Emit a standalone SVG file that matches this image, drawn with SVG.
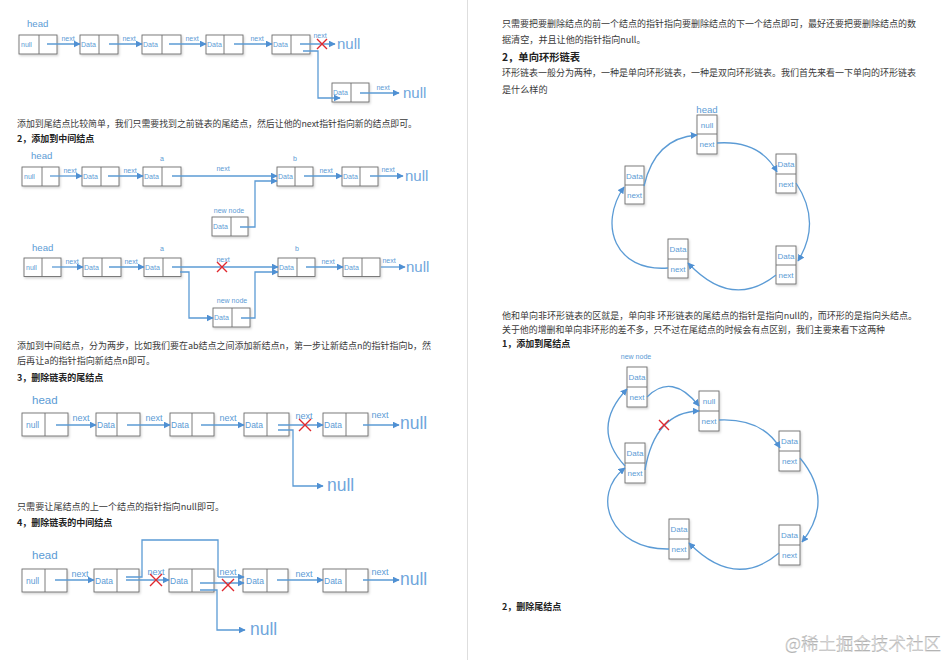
<svg xmlns="http://www.w3.org/2000/svg" width="951" height="660" viewBox="0 0 951 660">
<defs>
<marker id="ah" viewBox="0 0 10 10" refX="9" refY="5" markerWidth="7" markerHeight="7" markerUnits="userSpaceOnUse" orient="auto">
<path d="M0,0 L10,5 L0,10 z" fill="#4f90d3"/>
</marker>
<filter id="sh" x="-20%" y="-20%" width="150%" height="160%">
<feDropShadow dx="1" dy="1.5" stdDeviation="1" flood-color="#000" flood-opacity="0.18"/>
</filter>
</defs>
<style>
.bg{fill:#fff}
.body{font-family:"Noto Sans CJK SC","Noto Sans",sans-serif;font-size:9.1px;fill:#3a3a3a}
.hd{font-family:"Noto Sans CJK SC","Noto Sans",sans-serif;font-size:9px;font-weight:bold;fill:#222}
.node rect{fill:#fff;stroke:#6e6e6e;stroke-width:0.9;filter:url(#sh)}
.node line{stroke:#6e6e6e;stroke-width:0.9}
.node text{font-family:"Liberation Sans",Arial,sans-serif;font-size:7px;fill:#5b9bd5}
.big text{font-size:8.5px}
.cn text{font-size:8px;text-anchor:middle}
.lb{font-family:"Liberation Sans",Arial,sans-serif;font-size:7px;fill:#5b9bd5}
.lb9{font-family:"Liberation Sans",Arial,sans-serif;font-size:9px;fill:#5b9bd5}
.head{font-family:"Liberation Sans",Arial,sans-serif;font-size:9.6px;fill:#5b9bd5}
.head2{font-family:"Liberation Sans",Arial,sans-serif;font-size:11.5px;fill:#5b9bd5}
.nul{font-family:"Liberation Sans",Arial,sans-serif;font-size:15px;fill:#6fa6dc}
.nul2{font-family:"Liberation Sans",Arial,sans-serif;font-size:17.5px;fill:#6fa6dc}
.c{fill:none;stroke:#5b9bd5;stroke-width:1.3;marker-end:url(#ah)}
.p{fill:none;stroke:#5b9bd5;stroke-width:1.3}
.x{stroke:#e0282e;stroke-width:1.4}
</style>
<rect class="bg" x="0" y="0" width="951" height="660"/>
<line x1="467.5" y1="0" x2="467.5" y2="660" stroke="#dedede" stroke-width="1"/>

<!-- left page text -->
<text class="body" x="17" y="127" textLength="400" lengthAdjust="spacingAndGlyphs">添加到尾结点比较简单，我们只需要找到之前链表的尾结点，然后让他的next指针指向新的结点即可。</text>
<text class="hd" x="17" y="142">2，添加到中间结点</text>
<text class="body" x="17" y="349" textLength="414" lengthAdjust="spacingAndGlyphs">添加到中间结点，分为两步，比如我们要在ab结点之间添加新结点n，第一步让新结点n的指针指向b，然</text>
<text class="body" x="17" y="364">后再让a的指针指向新结点n即可。</text>
<text class="hd" x="17" y="381">3，删除链表的尾结点</text>
<text class="body" x="17" y="510">只需要让尾结点的上一个结点的指针指向null即可。</text>
<text class="hd" x="17" y="526">4，删除链表的中间结点</text>

<!-- right page text -->
<text class="body" x="502" y="27" textLength="414" lengthAdjust="spacingAndGlyphs">只需要把要删除结点的前一个结点的指针指向要删除结点的下一个结点即可，最好还要把要删除结点的数</text>
<text class="body" x="502" y="43">据清空，并且让他的指针指向null。</text>
<text class="hd" x="502" y="61" style="font-size:10.3px">2，单向环形链表</text>
<text class="body" x="502" y="76" textLength="414" lengthAdjust="spacingAndGlyphs">环形链表一般分为两种，一种是单向环形链表，一种是双向环形链表。我们首先来看一下单向的环形链表</text>
<text class="body" x="502" y="93">是什么样的</text>
<text class="body" x="502" y="319" textLength="415" lengthAdjust="spacingAndGlyphs">他和单向非环形链表的区就是，单向非 环形链表的尾结点的指针是指向null的，而环形的是指向头结点。</text>
<text class="body" x="502" y="333" textLength="383" lengthAdjust="spacingAndGlyphs">关于他的增删和单向非环形的差不多，只不过在尾结点的时候会有点区别，我们主要来看下这两种</text>
<text class="hd" x="502" y="347">1，添加到尾结点</text>
<text class="hd" x="502" y="610">2，删除尾结点</text>
<text x="785" y="650" style="font-family:'Noto Sans CJK SC',sans-serif;font-size:17.5px;font-weight:300;fill:#fbfbfb;stroke:#a8a8a8;stroke-width:0.4">@稀土掘金技术社区</text>

<!-- ===== Diagram 1 ===== -->
<text class="head" x="27" y="26.5">head</text>
<g id="d1n1" class="node"><rect x="19" y="35" width="38" height="19"/><line x1="39" y1="35" x2="39" y2="54"/><text x="21" y="47">null</text></g>
<g id="d1n2" class="node"><rect x="80" y="35" width="38" height="19"/><line x1="99" y1="35" x2="99" y2="54"/><text x="81" y="47">Data</text></g>
<g id="d1n3" class="node"><rect x="142" y="35" width="39" height="19"/><line x1="162" y1="35" x2="162" y2="54"/><text x="143" y="47">Data</text></g>
<g id="d1n4" class="node"><rect x="206" y="35" width="37" height="19"/><line x1="224" y1="35" x2="224" y2="54"/><text x="207" y="47">Data</text></g>
<g id="d1n5" class="node"><rect x="272" y="35" width="38" height="19"/><line x1="291" y1="35" x2="291" y2="54"/><text x="273" y="47">Data</text></g>
<g id="d1nn" class="node"><rect x="332" y="83" width="37" height="19"/><line x1="351" y1="83" x2="351" y2="102"/><text x="333" y="95">Data</text></g>
<text class="nul" x="337" y="49">null</text>
<text class="nul" x="403" y="98">null</text>

<!-- ===== Diagram 2 ===== -->
<text class="head" x="31" y="159">head</text>
<text class="lb" x="162" y="161" text-anchor="middle">a</text>
<text class="lb" x="295" y="161" text-anchor="middle">b</text>
<g id="d2n1" class="node"><rect x="22" y="167" width="37" height="19"/><line x1="42" y1="167" x2="42" y2="186"/><text x="24" y="179">null</text></g>
<g id="d2n2" class="node"><rect x="82" y="167" width="37" height="19"/><line x1="101" y1="167" x2="101" y2="186"/><text x="83" y="179">Data</text></g>
<g id="d2a" class="node"><rect x="143" y="167" width="38" height="19"/><line x1="162" y1="167" x2="162" y2="186"/><text x="144" y="179">Data</text></g>
<g id="d2b" class="node"><rect x="277" y="167" width="36" height="19"/><line x1="295" y1="167" x2="295" y2="186"/><text x="278" y="179">Data</text></g>
<g id="d2n5" class="node"><rect x="342" y="167" width="36" height="19"/><line x1="360" y1="167" x2="360" y2="186"/><text x="343" y="179">Data</text></g>
<text class="lb" x="229" y="212.5" text-anchor="middle">new node</text>
<g id="d2nn" class="node"><rect x="212" y="217" width="36" height="19"/><line x1="231" y1="217" x2="231" y2="236"/><text x="213" y="229">Data</text></g>
<text class="nul" x="405" y="180.5">null</text>

<!-- ===== Diagram 3 ===== -->
<text class="head" x="32" y="251">head</text>
<text class="lb" x="162" y="251" text-anchor="middle">a</text>
<text class="lb" x="297" y="251" text-anchor="middle">b</text>
<g id="d3n1" class="node"><rect x="24" y="258" width="37" height="18.5"/><line x1="42" y1="258" x2="42" y2="276.5"/><text x="26" y="270">null</text></g>
<g id="d3n2" class="node"><rect x="83" y="258" width="38" height="18.5"/><line x1="102" y1="258" x2="102" y2="276.5"/><text x="84" y="270">Data</text></g>
<g id="d3a" class="node"><rect x="144" y="258" width="37" height="18.5"/><line x1="163" y1="258" x2="163" y2="276.5"/><text x="145" y="270">Data</text></g>
<g id="d3b" class="node"><rect x="278" y="258" width="37" height="18.5"/><line x1="297" y1="258" x2="297" y2="276.5"/><text x="279" y="270">Data</text></g>
<g id="d3n5" class="node"><rect x="343" y="258" width="37" height="18.5"/><line x1="362" y1="258" x2="362" y2="276.5"/><text x="344" y="270">Data</text></g>
<text class="lb" x="232" y="303" text-anchor="middle">new node</text>
<g id="d3nn" class="node"><rect x="213" y="308" width="37" height="19"/><line x1="232" y1="308" x2="232" y2="327"/><text x="214" y="320">Data</text></g>
<text class="nul" x="406" y="271.5">null</text>

<!-- ===== Diagram 4 ===== -->
<text class="head2" x="32" y="404">head</text>
<g id="d4n1" class="node big"><rect x="22" y="413" width="46" height="23"/><line x1="45" y1="413" x2="45" y2="436"/><text x="26" y="428">null</text></g>
<g id="d4n2" class="node big"><rect x="96" y="413" width="44" height="23"/><line x1="117" y1="413" x2="117" y2="436"/><text x="97" y="428">Data</text></g>
<g id="d4n3" class="node big"><rect x="170" y="413" width="44" height="23"/><line x1="192" y1="413" x2="192" y2="436"/><text x="171" y="428">Data</text></g>
<g id="d4n4" class="node big"><rect x="244" y="413" width="45" height="23"/><line x1="267" y1="413" x2="267" y2="436"/><text x="245" y="428">Data</text></g>
<g id="d4n5" class="node big"><rect x="323" y="413" width="45" height="23"/><line x1="346" y1="413" x2="346" y2="436"/><text x="324" y="428">Data</text></g>
<text class="nul2" x="400" y="429">null</text>
<text class="nul2" x="327" y="491">null</text>

<!-- ===== Diagram 5 ===== -->
<text class="head2" x="32" y="559">head</text>
<g id="d5n1" class="node big"><rect x="22" y="569" width="45" height="23"/><line x1="45" y1="569" x2="45" y2="592"/><text x="26" y="584">null</text></g>
<g id="d5n2" class="node big"><rect x="94" y="569" width="45" height="23"/><line x1="117" y1="569" x2="117" y2="592"/><text x="95" y="584">Data</text></g>
<g id="d5n3" class="node big"><rect x="169" y="569" width="45" height="23"/><line x1="192" y1="569" x2="192" y2="592"/><text x="170" y="584">Data</text></g>
<g id="d5n4" class="node big"><rect x="243" y="569" width="45" height="23"/><line x1="267" y1="569" x2="267" y2="592"/><text x="246" y="584">Data</text></g>
<g id="d5n5" class="node big"><rect x="323" y="569" width="45" height="23"/><line x1="346" y1="569" x2="346" y2="592"/><text x="324" y="584">Data</text></g>
<text class="nul2" x="400" y="585">null</text>
<text class="nul2" x="250" y="635">null</text>

<!-- ===== Circle 1 ===== -->
<text class="head" x="707" y="113" text-anchor="middle">head</text>
<g id="c1head" class="node cn"><rect x="697" y="115" width="20" height="39"/><line x1="697" y1="134" x2="717" y2="134"/><text x="707" y="127.5">null</text><text x="707" y="147">next</text></g>
<g id="c1r1" class="node cn"><rect x="776" y="154" width="20" height="39"/><line x1="776" y1="174" x2="796" y2="174"/><text x="786" y="167">Data</text><text x="786" y="186.5">next</text></g>
<g id="c1r2" class="node cn"><rect x="776" y="246" width="20" height="38"/><line x1="776" y1="265" x2="796" y2="265"/><text x="786" y="258.5">Data</text><text x="786" y="277.5">next</text></g>
<g id="c1b" class="node cn"><rect x="668" y="239" width="20" height="39"/><line x1="668" y1="259" x2="688" y2="259"/><text x="678" y="252">Data</text><text x="678" y="271.5">next</text></g>
<g id="c1l" class="node cn"><rect x="625" y="166" width="19" height="38"/><line x1="625" y1="185" x2="644" y2="185"/><text x="634.5" y="178.5">Data</text><text x="634.5" y="197.5">next</text></g>

<!-- ===== Circle 2 ===== -->
<text class="lb" x="636" y="359" text-anchor="middle">new node</text>
<g id="c2nn" class="node cn"><rect x="627" y="367" width="20" height="40"/><line x1="627" y1="387" x2="647" y2="387"/><text x="637" y="380">Data</text><text x="637" y="400">next</text></g>
<g id="c2head" class="node cn"><rect x="699" y="391" width="20" height="40"/><line x1="699" y1="411" x2="719" y2="411"/><text x="709" y="404">null</text><text x="709" y="424">next</text></g>
<g id="c2r1" class="node cn"><rect x="779" y="431" width="21" height="40"/><line x1="779" y1="451" x2="800" y2="451"/><text x="789.5" y="444">Data</text><text x="789.5" y="464">next</text></g>
<g id="c2l" class="node cn"><rect x="625" y="443" width="20" height="40"/><line x1="625" y1="463" x2="645" y2="463"/><text x="635" y="456">Data</text><text x="635" y="476">next</text></g>
<g id="c2b" class="node cn"><rect x="669" y="519" width="20" height="40"/><line x1="669" y1="539" x2="689" y2="539"/><text x="679" y="532">Data</text><text x="679" y="552">next</text></g>
<g id="c2r2" class="node cn"><rect x="779" y="525" width="21" height="40"/><line x1="779" y1="545" x2="800" y2="545"/><text x="789.5" y="538">Data</text><text x="789.5" y="558">next</text></g>

<g id="connectors">
<!-- D1 -->
<path class="c" d="M47,44 H80"/><text class="lb" x="68" y="41" text-anchor="middle">next</text>
<path class="c" d="M109,44 H142"/><text class="lb" x="129" y="41" text-anchor="middle">next</text>
<path class="c" d="M169,44 H206"/><text class="lb" x="192" y="41" text-anchor="middle">next</text>
<path class="c" d="M234,44 H272"/><text class="lb" x="257" y="41" text-anchor="middle">next</text>
<path class="c" d="M300,44 H335"/><text class="lb" x="320" y="38" text-anchor="middle">next</text>
<path class="x" d="M317,39 L327,49 M327,39 L317,49"/>
<path class="c" d="M303,51 H318 V98 H340"/>
<path class="c" d="M360,93 H399"/><text class="lb" x="383" y="90" text-anchor="middle">next</text>
<!-- D2 -->
<path class="c" d="M50,176 H82"/><text class="lb" x="70" y="173" text-anchor="middle">next</text>
<path class="c" d="M108,176 H143"/><text class="lb" x="130" y="173" text-anchor="middle">next</text>
<path class="c" d="M172,176 H277"/><text class="lb" x="223" y="171" text-anchor="middle">next</text>
<path class="c" d="M304,176 H342"/><text class="lb" x="326" y="173" text-anchor="middle">next</text>
<path class="c" d="M370,176 H403"/><text class="lb" x="388" y="172" text-anchor="middle">next</text>
<path class="c" d="M240,227 H255 V181 H277"/>
<!-- D3 -->
<path class="c" d="M52,267 H83"/><text class="lb" x="72" y="264" text-anchor="middle">next</text>
<path class="c" d="M109,267 H144"/><text class="lb" x="131" y="264" text-anchor="middle">next</text>
<path class="c" d="M172,267 H278"/><text class="lb" x="223" y="262" text-anchor="middle">next</text>
<path class="x" d="M217,262 L227,272 M227,262 L217,272"/>
<path class="c" d="M306,267 H343"/><text class="lb" x="328" y="264" text-anchor="middle">next</text>
<path class="c" d="M381,267 H405"/><text class="lb" x="389" y="263" text-anchor="middle">next</text>
<path class="c" d="M180,272 H189 V318 H213"/>
<path class="c" d="M241,318 H255 V272 H278"/>
<!-- D4 -->
<path class="c" d="M56,425 H96"/><text class="lb9" x="81" y="421" text-anchor="middle">next</text>
<path class="c" d="M127,425 H170"/><text class="lb9" x="154" y="421" text-anchor="middle">next</text>
<path class="c" d="M201,425 H244"/><text class="lb9" x="228" y="421" text-anchor="middle">next</text>
<path class="c" d="M278,425 H323"/><text class="lb9" x="304" y="419" text-anchor="middle">next</text>
<path class="x" d="M299,419 L311,431 M311,419 L299,431"/>
<path class="c" d="M363,425 H399"/><text class="lb9" x="380" y="418" text-anchor="middle">next</text>
<path class="c" d="M278,430 H293 V486 H323"/>
<!-- D5 -->
<path class="c" d="M55,580 H94"/><text class="lb9" x="80" y="577" text-anchor="middle">next</text>
<path class="p" d="M126,577 H142 V540 H218 V577"/>
<path class="c" d="M218,577 H244"/>
<path class="c" d="M126,580 H169"/><text class="lb9" x="156" y="575" text-anchor="middle">next</text>
<path class="x" d="M150,574 L162,586 M162,574 L150,586"/>
<path class="c" d="M200,583 H244"/><text class="lb9" x="228" y="575" text-anchor="middle">next</text>
<path class="x" d="M222,579 L234,591 M234,579 L222,591"/>
<path class="c" d="M200,590 H217 V630 H245"/>
<path class="c" d="M277,580 H323"/><text class="lb9" x="304" y="577" text-anchor="middle">next</text>
<path class="c" d="M363,580 H399"/><text class="lb9" x="380" y="575" text-anchor="middle">next</text>
<!-- Circle 1 -->
<path class="c" d="M717,143 Q760,140 777,172"/>
<path class="c" d="M796,183 Q822,222 798,261"/>
<path class="c" d="M776,275 Q732,310 688,263"/>
<path class="c" d="M668,268 C615,272 598,225 624,187"/>
<path class="c" d="M644,186 Q655,138 697,135"/>
<!-- Circle 2 -->
<path class="c" d="M647,397 Q672,372 699,406"/>
<path class="c" d="M645,470 Q655,412 699,411"/>
<path class="x" d="M659,420 L669,430 M669,420 L659,430"/>
<path class="c" d="M719,420 Q762,418 780,448"/>
<path class="c" d="M800,458 Q835,500 802,542"/>
<path class="c" d="M779,553 Q735,590 689,543"/>
<path class="c" d="M669,549 C610,550 590,495 625,468"/>
<path class="c" d="M625,466 Q590,428 627,389"/>
</g>
</svg>
